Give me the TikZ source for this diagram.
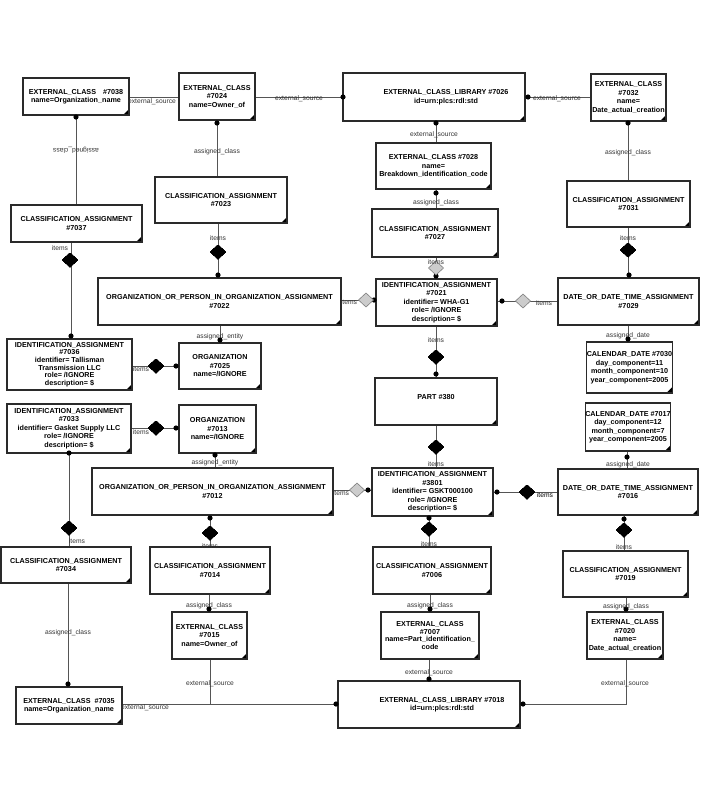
\documentclass[tikz,border=0pt]{standalone}
\usepackage{fontspec}
\setmainfont{Liberation Sans}
\definecolor{conncol}{HTML}{555555}
\definecolor{boxcol}{HTML}{2A2A2A}
\definecolor{lblcol}{HTML}{333333}
\definecolor{lightdia}{HTML}{CCCCCC}
\definecolor{lightdiab}{HTML}{808080}
\tikzset{
  box/.style={draw=boxcol, line width=1.2pt, fill=white, inner sep=0pt, align=center,
    font=\bfseries\fontsize{7.2}{8.5}\selectfont,
    path picture={\fill[black] (path picture bounding box.south east) -- ++(-6pt,0pt) -- ++(6pt,6pt) -- cycle;}},
  tightbox/.style={box, font=\bfseries\fontsize{7.2}{7.6}\selectfont},
  conn/.style={draw=conncol, line width=1pt},
  lbl/.style={inner sep=0pt, text=lblcol, font=\fontsize{6.7}{7}\selectfont},
  bdia/.pic={\fill[black] (-7.5,0) -- (0,-7) -- (7.5,0) -- (0,7) -- cycle;},
  gdia/.pic={\filldraw[fill=lightdia, draw=lightdiab, line width=0.6pt] (-7.5,0) -- (0,-7) -- (7.5,0) -- (0,7) -- cycle;},
}
\newcommand{\dotmark}[1]{\fill[black] (#1) circle (2.6pt);}
\begin{document}
\begin{tikzpicture}[x=1pt,y=-1pt]
\fill[white] (0,0) rectangle (701,801);
\useasboundingbox (0,0) rectangle (701,801);

% ---------- boxes ----------
\node[box, minimum width=106, minimum height=37] (n7038) at (76,96.5) {EXTERNAL\_CLASS\hspace{7pt}\#7038\\name=Organization\_name};
\node[box, minimum width=76, minimum height=47] (n7024) at (217,96.5) {EXTERNAL\_CLASS\\\#7024\\name=Owner\_of};
\node[box, minimum width=182, minimum height=48] (n7026) at (434,97) {\hspace*{24pt}EXTERNAL\_CLASS\_LIBRARY \#7026\\\hspace*{24pt}id=urn:plcs:rdl:std};
\node[box, minimum width=75, minimum height=47] (n7032) at (628.5,97.5) {EXTERNAL\_CLASS\\\#7032\\name=\\Date\_actual\_creation};
\node[box, minimum width=115, minimum height=46] (n7028) at (433.5,166) {EXTERNAL\_CLASS \#7028\\name=\\Breakdown\_identification\_code};
\node[box, minimum width=132, minimum height=46] (n7023) at (221,200) {CLASSIFICATION\_ASSIGNMENT\\\#7023};
\node[box, minimum width=126, minimum height=48] (n7027) at (435,233) {CLASSIFICATION\_ASSIGNMENT\\\#7027};
\node[box, minimum width=131, minimum height=37] (n7037) at (76.5,223.5) {CLASSIFICATION\_ASSIGNMENT\\\#7037};
\node[box, minimum width=123, minimum height=46] (n7031) at (628.5,204) {CLASSIFICATION\_ASSIGNMENT\\\#7031};
\node[box, minimum width=243, minimum height=47] (n7022) at (219.5,301.5) {ORGANIZATION\_OR\_PERSON\_IN\_ORGANIZATION\_ASSIGNMENT\\\#7022};
\node[box, minimum width=121, minimum height=47] (n7021) at (436.5,302.5) {IDENTIFICATION\_ASSIGNMENT\\\#7021\\identifier= WHA-G1\\role= /IGNORE\\description= \$};
\node[box, minimum width=141, minimum height=47] (n7029) at (628.5,301.5) {DATE\_OR\_DATE\_TIME\_ASSIGNMENT\\\#7029};
\node[tightbox, minimum width=125, minimum height=51] (n7036) at (69.5,364.5) {IDENTIFICATION\_ASSIGNMENT\\\#7036\\identifier= Tallisman\\Transmission LLC\\role= /IGNORE\\description= \$};
\node[box, minimum width=82, minimum height=46] (n7025) at (220,366) {ORGANIZATION\\\#7025\\name=/IGNORE};
\node[box, minimum width=85, minimum height=51] (n7030) at (629.5,367.5) {CALENDAR\_DATE \#7030\\day\_component=11\\month\_component=10\\year\_component=2005};
\node[box, minimum width=124, minimum height=49] (n7033) at (69,428.5) {IDENTIFICATION\_ASSIGNMENT\\\#7033\\identifier= Gasket Supply LLC\\role= /IGNORE\\description= \$};
\node[box, minimum width=77, minimum height=48] (n7013) at (217.5,429) {ORGANIZATION\\\#7013\\name=/IGNORE};
\node[box, minimum width=84, minimum height=48] (n7017) at (628,427) {CALENDAR\_DATE \#7017\\day\_component=12\\month\_component=7\\year\_component=2005};
\node[box, minimum width=122, minimum height=47] (n380) at (436,401.5) {PART \#380\\[1pt]\mbox{}};
\node[box, minimum width=121, minimum height=48] (n3801) at (432.5,492) {IDENTIFICATION\_ASSIGNMENT\\\#3801\\identifier= GSKT000100\\role= /IGNORE\\description= \$};
\node[box, minimum width=241, minimum height=47] (n7012) at (212.5,491.5) {ORGANIZATION\_OR\_PERSON\_IN\_ORGANIZATION\_ASSIGNMENT\\\#7012};
\node[box, minimum width=140, minimum height=46] (n7016) at (628,492) {DATE\_OR\_DATE\_TIME\_ASSIGNMENT\\\#7016};
\node[box, minimum width=130, minimum height=36] (n7034) at (66,565) {CLASSIFICATION\_ASSIGNMENT\\\#7034};
\node[box, minimum width=120, minimum height=47] (n7014) at (210,570.5) {CLASSIFICATION\_ASSIGNMENT\\\#7014};
\node[box, minimum width=118, minimum height=47] (n7006) at (432,570.5) {CLASSIFICATION\_ASSIGNMENT\\\#7006};
\node[box, minimum width=125, minimum height=46] (n7019) at (625.5,574) {CLASSIFICATION\_ASSIGNMENT\\\#7019};
\node[box, minimum width=75, minimum height=47] (n7015) at (209.5,635.5) {EXTERNAL\_CLASS\\\#7015\\name=Owner\_of};
\node[tightbox, minimum width=98, minimum height=47] (n7007) at (430,635.5) {EXTERNAL\_CLASS\\\#7007\\name=Part\_identification\_\\code};
\node[box, minimum width=76, minimum height=47] (n7020) at (625,635.5) {EXTERNAL\_CLASS\\\#7020\\name=\\Date\_actual\_creation};
\node[box, minimum width=106, minimum height=37] (n7035) at (69,705.5) {EXTERNAL\_CLASS\hspace{4pt}\#7035\\name=Organization\_name};
\node[box, minimum width=182, minimum height=47] (n7018) at (429,704.5) {\hspace*{26pt}EXTERNAL\_CLASS\_LIBRARY \#7018\\\hspace*{26pt}id=urn:plcs:rdl:std};

\coordinate (j1) at (210,704);

% ---------- connectors ----------
\draw[conn] (n7038.east |- 0,97) -- (n7024.west |- 0,97);
\draw[conn] (n7024.east |- 0,97) -- (n7026.west |- 0,97);
\draw[conn] (n7026.east |- 0,97) -- (n7032.west |- 0,97);
\draw[conn] (76,0 |- n7038.south) -- (76,0 |- n7037.north);
\draw[conn] (217,0 |- n7024.south) -- (217,0 |- n7023.north);
\draw[conn] (436,0 |- n7026.south) -- (436,0 |- n7028.north);
\draw[conn] (436,0 |- n7028.south) -- (436,0 |- n7027.north);
\draw[conn] (628,0 |- n7032.south) -- (628,0 |- n7031.north);
\draw[conn] (71,0 |- n7037.south) -- (71,0 |- n7036.north);
\draw[conn] (218,0 |- n7023.south) -- (218,0 |- n7022.north);
\draw[conn] (436,0 |- n7027.south) -- (436,0 |- n7021.north);
\draw[conn] (628,0 |- n7031.south) -- (628,0 |- n7029.north);
\draw[conn] (n7022.east |- 0,300) -- (n7021.west |- 0,300);
\draw[conn] (n7021.east |- 0,301) -- (n7029.west |- 0,301);
\draw[conn] (436,0 |- n7021.south) -- (436,0 |- n380.north);
\draw[conn] (220,0 |- n7022.south) -- (220,0 |- n7025.north);
\draw[conn] (628,0 |- n7029.south) -- (628,0 |- n7030.north);
\draw[conn] (n7036.east |- 0,366) -- (n7025.west |- 0,366);
\draw[conn] (n7033.east |- 0,428) -- (n7013.west |- 0,428);
\draw[conn] (436,0 |- n380.south) -- (436,0 |- n3801.north);
\draw[conn] (627,0 |- n7017.south) -- (627,0 |- n7016.north);
\draw[conn] (n3801.east |- 0,492) -- (n7016.west |- 0,492);
\draw[conn] (n7012.east |- 0,490) -- (n3801.west |- 0,490);
\draw[conn] (429,0 |- n3801.south) -- (429,0 |- n7006.north);
\draw[conn] (624,0 |- n7016.south) -- (624,0 |- n7019.north);
\draw[conn] (215,0 |- n7013.south) -- (215,0 |- n7012.north);
\draw[conn] (69,0 |- n7033.south) -- (69,0 |- n7034.north);
\draw[conn] (210,0 |- n7012.south) -- (210,0 |- n7014.north);
\draw[conn] (68,0 |- n7034.south) -- (68,0 |- n7035.north);
\draw[conn] (209,0 |- n7014.south) -- (209,0 |- n7015.north);
\draw[conn] (430,0 |- n7006.south) -- (430,0 |- n7007.north);
\draw[conn] (626,0 |- n7019.south) -- (626,0 |- n7020.north);
\draw[conn] (429,0 |- n7007.south) -- (429,0 |- n7018.north);
\draw[conn] (626,0 |- n7020.south) |- (n7018.east |- 0,704);
\draw[conn] (n7035.east |- 0,704) -- (n7018.west |- 0,704);
\draw[conn] (210,0 |- n7015.south) -- (j1);

% ---------- end decorations ----------
\foreach \p in {{343,97},{528,97},{76,117},{217,123},{436,123},{436,193},{628,123},
  {71,336},{218,275},{436,276},{629,275},{374,300},{502,301},{436,374},{220,340},
  {628,339},{176,366},{176,428},{627,457},{497,492},{368,490},{429,518},{624,519},
  {215,455},{69,453},{210,518},{68,684},{209,609},{430,609},{626,609},{429,679},
  {523,704},{336,704}}
  \dotmark{\p}
\foreach \p in {{70,260},{218,252},{628,250},{436,357},{156,366},{156,428},{436,447},
  {527,492},{429,529},{624,530},{69,528},{210,533}}
  \pic at (\p) {bdia};
\foreach \p in {{436,268},{366,300},{523,301},{357,490}}
  \pic at (\p) {gdia};

% ---------- labels ----------
\node[lbl] (l1) at (152,102) {external\_source};
\node[lbl] (l2) at (299,99) {external\_source};
\node[lbl] (l3) at (557,99) {external\_source};
\node[lbl] (l4) at (434,135) {external\_source};
\node[lbl] (l5) at (429,673) {external\_source};
\node[lbl] (l6) at (625,684) {external\_source};
\node[lbl] (l7) at (145,708) {external\_source};
\node[lbl] (l8) at (210,684) {external\_source};
\node[lbl, rotate=180] (l9) at (76,150) {assigned\_class};
\node[lbl] (l10) at (217,152) {assigned\_class};
\node[lbl] (l11) at (436,203) {assigned\_class};
\node[lbl] (l12) at (628,153) {assigned\_class};
\node[lbl] (l13) at (68,633) {assigned\_class};
\node[lbl] (l14) at (209,606) {assigned\_class};
\node[lbl] (l15) at (430,606) {assigned\_class};
\node[lbl] (l16) at (626,607) {assigned\_class};
\node[lbl] (l17) at (60,248) {items};
\node[lbl] (l18) at (218,238) {items};
\node[lbl] (l19) at (436,262) {items};
\node[lbl] (l20) at (628,238) {items};
\node[lbl] (l21) at (349,302) {items};
\node[lbl] (l22) at (544,303) {items};
\node[lbl] (l23) at (436,340) {items};
\node[lbl] (l24) at (436,464) {items};
\node[lbl, text=black] (l25) at (545,495) {items};
\node[lbl] (l26) at (341,493) {items};
\node[lbl] (l27) at (429,544) {items};
\node[lbl] (l28) at (624,547) {items};
\node[lbl] (l29) at (77,541) {items};
\node[lbl] (l30) at (210,546) {items};
\node[lbl] (l31) at (141,369) {items};
\node[lbl] (l32) at (141,432) {items};
\node[lbl] (l33) at (220,337) {assigned\_entity};
\node[lbl] (l34) at (215,463) {assigned\_entity};
\node[lbl] (l35) at (628,336) {assigned\_date};
\node[lbl] (l36) at (628,465) {assigned\_date};
\end{tikzpicture}
\end{document}
